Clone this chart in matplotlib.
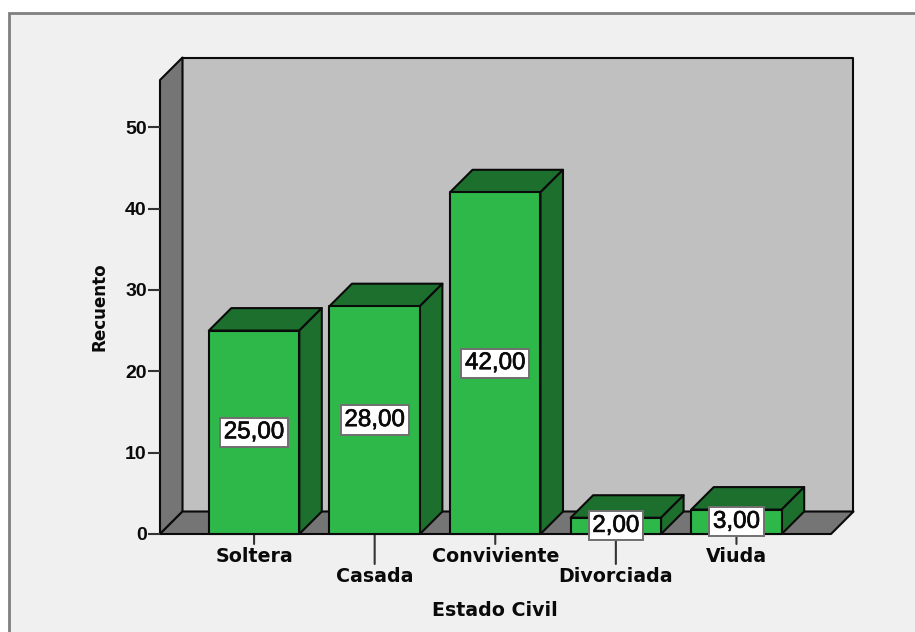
# estado civil bar chart with a fake 3D box

import matplotlib
matplotlib.use("Agg")
import matplotlib.pyplot as plt
import matplotlib.patheffects as pe
from matplotlib.patches import Polygon, Rectangle

categories = ["Soltera", "Casada", "Conviviente", "Divorciada", "Viuda"]
counts = [25, 28, 42, 2, 3]
value_labels = ["25,00", "28,00", "42,00", "2,00", "3,00"]
y_ticks = [0, 10, 20, 30, 40, 50]
label_row = [0, 1, 0, 1, 0]

W, H = 915, 632
GREEN, DARK = "#2fb84a", "#1d6f2e"
WALL, SIDE = "#c0c0c0", "#757575"
INK = "#0a0a0a"

fig = plt.figure(figsize=(W / 100, H / 100), dpi=100, facecolor="white")
fig.add_artist(Rectangle((9 / W, -0.01), 1, 1 - 13 / H + 0.01, transform=fig.transFigure,
                         fc="#f0f0f0", ec="#7f7f7f", lw=2, zorder=-1))

# axes box is the front edge of the floor and side wall
ax = fig.add_axes([160 / W, 1 - 534 / H, 671 / W, 454 / H])
ax.set_xlim(-0.78, 4.784)
ax.set_ylim(0, 55.8)
ax.patch.set_visible(False)
for s in ax.spines.values():
    s.set_visible(False)

px, py = 120.6, 8.14   # pixels per unit
dx, dy = 22.5 / px, 22.5 / py   # depth of the box
x0, x1 = ax.get_xlim()
y1 = ax.get_ylim()[1]


def poly(pts, fc, z=1):
    ax.add_patch(Polygon(pts, closed=True, fc=fc, ec=INK, lw=1.5, zorder=z,
                         joinstyle="round", clip_on=False))


# walls and floor
poly([(x0 + dx, dy), (x1 + dx, dy), (x1 + dx, y1 + dy), (x0 + dx, y1 + dy)], WALL)
poly([(x0, 0), (x0 + dx, dy), (x0 + dx, y1 + dy), (x0, y1)], SIDE)
poly([(x0, 0), (x1, 0), (x1 + dx, dy), (x0 + dx, dy)], SIDE)

# bars
w = 0.375
for i, v in enumerate(counts):
    z = 2 + i
    poly([(i - w, v), (i + w, v), (i + w + dx, v + dy), (i - w + dx, v + dy)], DARK, z)
    poly([(i + w, 0), (i + w + dx, dy), (i + w + dx, v + dy), (i + w, v)], DARK, z)
    poly([(i - w, 0), (i + w, 0), (i + w, v), (i - w, v)], GREEN, z)

# value boxes sit at mid height of each bar
for i, (v, lab) in enumerate(zip(counts, value_labels)):
    t = ax.text(i, v / 2, lab, ha="center", va="center", fontsize=17.4, color=INK,
                family="Liberation Sans", zorder=12,
                bbox=dict(boxstyle="square,pad=0.15", fc="white", ec="#707070", lw=1.4))
    t.set_path_effects([pe.withStroke(linewidth=0.5, foreground=INK)])

ax.set_xticks(range(len(categories)))
ax.set_xticklabels([])
ax.set_yticks(y_ticks)
ax.set_yticklabels([str(t) for t in y_ticks], fontsize=14, fontweight="bold",
                   family="Liberation Sans", color=INK)
ax.tick_params(axis="y", length=8.5, width=1.5, color="#333333", pad=1)
ax.tick_params(axis="x", length=0)

# staggered category labels with their long ticks
for i, (c, row) in enumerate(zip(categories, label_row)):
    tick = 10 if row == 0 else 30
    text_off = 23 if row == 0 else 43
    ax.annotate("", xy=(i, 0), xytext=(i, -tick / 454 * y1), xycoords="data", textcoords="data",
                annotation_clip=False,
                arrowprops=dict(arrowstyle="-", color="#333333", lw=1.5, shrinkA=0, shrinkB=0),
                zorder=1)
    ax.text(i, -text_off / 454 * y1, c, ha="center", va="center", fontsize=13.7,
            fontweight="bold", color=INK, family="DejaVu Sans")

fig.text(495 / W, 1 - 610 / H, "Estado Civil", ha="center", va="center", fontsize=13.7,
         fontweight="bold", color=INK, family="DejaVu Sans")
fig.text(99 / W, 1 - 307 / H, "Recuento", ha="center", va="center", rotation=90,
         fontsize=12.1, fontweight="bold", color=INK, family="DejaVu Sans")

fig.savefig("out.png", dpi=100, facecolor="white")
